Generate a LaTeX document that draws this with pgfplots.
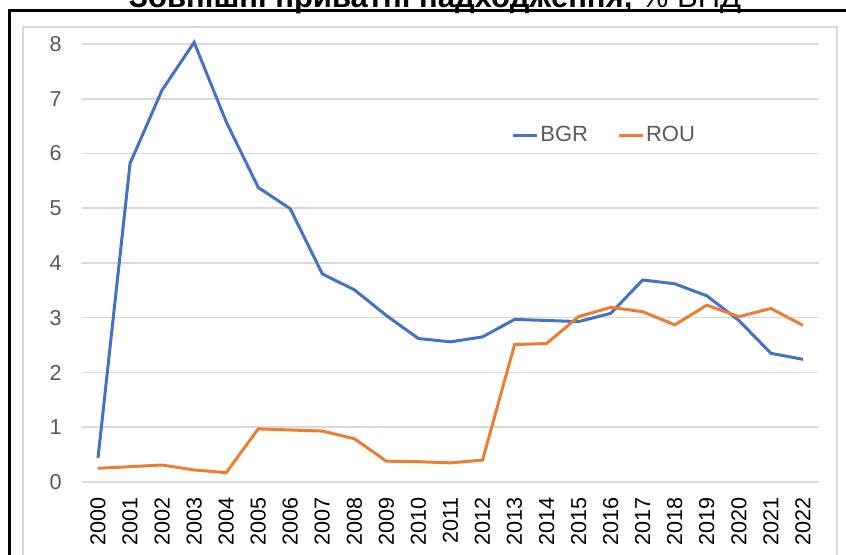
\documentclass[border=0pt]{standalone}
\usepackage{pgfplots}
\pgfplotsset{compat=1.18}
\usepackage{fontspec}
\setmainfont{Liberation Sans}
\definecolor{bgr}{HTML}{4472C4}
\definecolor{rou}{HTML}{ED7D31}
\definecolor{gridc}{HTML}{D9D9D9}
\definecolor{ticklab}{HTML}{595959}

\pgfplotstableread{
year bgr rou
2000 0.44 0.25
2001 5.82 0.28
2002 7.16 0.31
2003 8.03 0.22
2004 6.58 0.17
2005 5.38 0.97
2006 4.99 0.95
2007 3.80 0.93
2008 3.51 0.79
2009 3.04 0.38
2010 2.62 0.37
2011 2.56 0.35
2012 2.65 0.40
2013 2.97 2.51
2014 2.95 2.53
2015 2.93 3.02
2016 3.08 3.19
2017 3.69 3.11
2018 3.62 2.87
2019 3.40 3.23
2020 2.95 3.02
2021 2.35 3.17
2022 2.24 2.86
}\datatable

\begin{document}
\begin{tikzpicture}
\useasboundingbox (0,0) rectangle (423pt,277.5pt);
\node[anchor=base, font=\fontsize{15.5}{18}\selectfont, inner sep=0pt] at (217.5pt,273.5pt) {\textbf{Зовнішні приватні надходження,} \% ВНД};
\draw[line width=1.5pt] (4.5pt,-20pt) -- (4.5pt,272pt) -- (440pt,272pt);
\draw[gridc, line width=0.6pt] (11.5pt,-20pt) -- (11.5pt,264pt) -- (418.5pt,264pt) -- (418.5pt,-20pt);
\begin{axis}[
  at={(41pt,36.5pt)}, anchor=south west,
  scale only axis, width=368.5pt, height=219pt,
  xmin=1999.5, xmax=2022.5, ymin=0, ymax=8,
  xtick={2000,...,2022}, ytick={0,...,8},
  axis line style={draw=none},
  major tick length=0pt, tick style={draw=none},
  ymajorgrids, grid style={gridc, line width=0.75pt},
  /pgf/number format/1000 sep={},
  /pgf/number format/assume math mode=true,
  yticklabel style={font=\fontsize{10.8}{13}\selectfont, text=ticklab, inner sep=0pt, anchor=east, xshift=-10pt},
  xticklabel style={yshift=-7.5pt, font=\fontsize{10.8}{13}\selectfont, text=black, inner sep=0pt, rotate=90, anchor=east},
  clip=false,
  legend style={at={(0.582,0.792)}, anchor=west, draw=none, fill=none, inner sep=0pt,
    font=\fontsize{11}{13}\selectfont, text=ticklab,
    nodes={inner xsep=1pt, inner ysep=1pt},
    /tikz/every even column/.append style={column sep=13.5pt}},
  legend columns=2,
  legend image code/.code={\draw[#1, line width=1.5pt] (0pt,0pt) -- (12pt,0pt);},
]
\addplot[bgr, line width=1.5pt] table[x=year, y=bgr] {\datatable};
\addlegendentry{BGR}
\addplot[rou, line width=1.5pt] table[x=year, y=rou] {\datatable};
\addlegendentry{ROU}
\end{axis}
\end{tikzpicture}
\end{document}
